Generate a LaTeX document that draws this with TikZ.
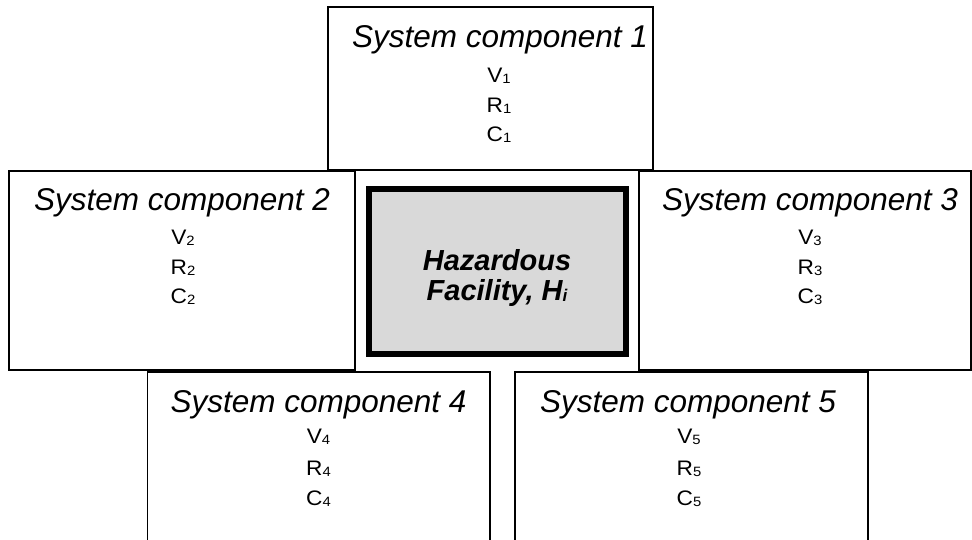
\documentclass[tikz,border=0pt]{standalone}
\usepackage{fontspec}
\setmainfont{Liberation Sans}
\definecolor{hazgray}{RGB}{217,217,217}
\newcommand\subidx[1]{\raisebox{-1pt}{\scalebox{1.1}[1]{\fontsize{13.5}{13.5}\selectfont #1}}}
\newcommand\compitem[2]{\scalebox{1.08}[1]{#1}\subidx{#2}}
\tikzset{
  comp/.style={draw=black, line width=1.3pt, rectangle, anchor=north west, inner sep=0pt, outer sep=0pt},
  haz/.style={draw=black, line width=6pt, fill=hazgray, rectangle, inner sep=0pt, outer sep=0pt,
    minimum width=257.5pt, minimum height=165pt},
  ttl/.style={anchor=base, inner sep=0pt, font=\fontsize{31.5}{31.5}\selectfont\itshape},
  itm/.style={anchor=base, inner sep=0pt, font=\fontsize{21}{21}\selectfont},
  hz/.style={anchor=base, inner sep=0pt, font=\fontsize{29}{29}\selectfont\bfseries\itshape},
}
\begin{document}
\begin{tikzpicture}[x=1pt, y=-1pt]
  \useasboundingbox (0,0) rectangle (972,539);
  \clip (0,0) rectangle (972,539);
  \fill[white] (0,0) rectangle (972,539);

  % component boxes
  \node[comp, minimum width=325pt, minimum height=163pt] (c1) at (328,7) {};
  \node[comp, minimum width=346pt, minimum height=199pt] (c2) at (9,171) {};
  \node[comp, minimum width=332pt, minimum height=199pt] (c3) at (639,171) {};
  \node[comp, minimum width=342.5pt, minimum height=190pt] (c4) at (147.5,372) {};
  \node[comp, minimum width=353pt, minimum height=190pt] (c5) at (515,372) {};

  % hazardous facility
  \node[haz] (hf) at (497.25,271.5) {};
  \node[hz] (hfa) at (497,270) {Hazardous};
  \node[hz] (hfb) at (497,300) {Facility, H\raisebox{-1pt}{\fontsize{17}{17}\selectfont i}};

  % component 1
  \node[ttl] (t1) at (500,47) {System component 1};
  \node[itm] (v1) at (499,82) {\compitem{V}{1}};
  \node[itm] (r1) at (499,112) {\compitem{R}{1}};
  \node[itm] (k1) at (499,141) {\compitem{C}{1}};

  % component 2
  \node[ttl] (t2) at (182,210) {System component 2};
  \node[itm] (v2) at (183,244) {\compitem{V}{2}};
  \node[itm] (r2) at (183,274) {\compitem{R}{2}};
  \node[itm] (k2) at (183,303) {\compitem{C}{2}};

  % component 3
  \node[ttl] (t3) at (810,210) {System component 3};
  \node[itm] (v3) at (810,244) {\compitem{V}{3}};
  \node[itm] (r3) at (810,274) {\compitem{R}{3}};
  \node[itm] (k3) at (810,303) {\compitem{C}{3}};

  % component 4
  \node[ttl] (t4) at (318.5,412) {System component 4};
  \node[itm] (v4) at (318.5,443) {\compitem{V}{4}};
  \node[itm] (r4) at (318.5,475) {\compitem{R}{4}};
  \node[itm] (k4) at (318.5,505) {\compitem{C}{4}};

  % component 5
  \node[ttl] (t5) at (688,412) {System component 5};
  \node[itm] (v5) at (689,443) {\compitem{V}{5}};
  \node[itm] (r5) at (689,475) {\compitem{R}{5}};
  \node[itm] (k5) at (689,505) {\compitem{C}{5}};
\end{tikzpicture}
\end{document}
